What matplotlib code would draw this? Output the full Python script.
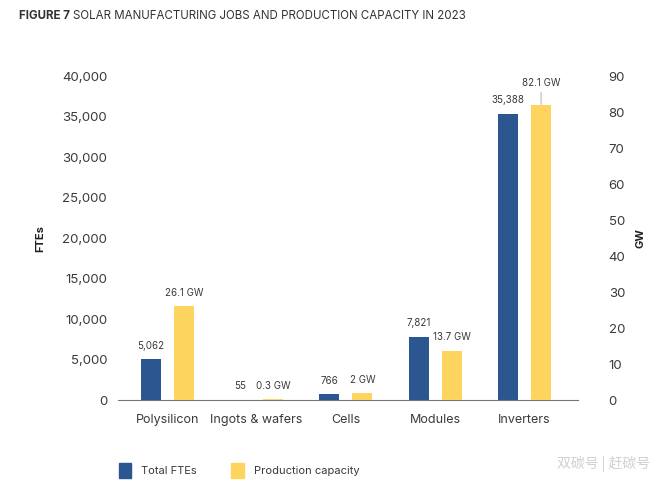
import matplotlib.pyplot as plt
import numpy as np

categories = ['Polysilicon', 'Ingots & wafers', 'Cells', 'Modules', 'Inverters']
ftes = [5062, 55, 766, 7821, 35388]
capacity_gw = [26.1, 0.3, 2, 13.7, 82.1]
fte_labels = ['5,062', '55', '766', '7,821', '35,388']
gw_labels = ['26.1 GW', '0.3 GW', '2 GW', '13.7 GW', '82.1 GW']

blue = '#2B5690'
yellow = '#FDD45E'
text_col = '#3a3a3a'

plt.rcParams['font.family'] = ['Inter', 'DejaVu Sans']

fig = plt.figure(figsize=(6.6, 4.82), dpi=100)
ax = fig.add_axes([0.179, 0.170, 0.697, 0.672])
ax2 = ax.twinx()

x = np.arange(len(categories))
off = 0.185
w = 0.225
ax.bar(x - off, ftes, w, color=blue, zorder=3)
ax2.bar(x + off, capacity_gw, w, color=yellow, zorder=3)

ax.set_ylim(0, 40000)
ax2.set_ylim(0, 90)
ax.set_xlim(-0.55, 4.6)
ax.set_yticks(np.arange(0, 40001, 5000))
ax.set_yticklabels([f'{v:,}' for v in range(0, 40001, 5000)])
ax2.set_yticks(np.arange(0, 91, 10))
ax.set_xticks(x)
ax.set_xticklabels(categories)

for a in (ax, ax2):
    for s in ['top', 'left', 'right', 'bottom']:
        a.spines[s].set_visible(False)
    a.tick_params(length=0, labelsize=9.5, labelcolor=text_col)
ax.spines['bottom'].set_visible(True)
ax.spines['bottom'].set_color('#777777')
ax.spines['bottom'].set_linewidth(0.8)
ax.tick_params(axis='x', labelsize=9, pad=10)
ax.tick_params(axis='y', pad=8)
ax2.tick_params(axis='y', pad=22)

for i in range(len(categories)):
    ax.annotate(fte_labels[i], (x[i] - off, ftes[i]), xytext=(0, 6), textcoords='offset points',
                ha='center', va='bottom', fontsize=7, color=text_col)
    if i == 4:
        ax2.annotate(gw_labels[i], (x[i] + off, capacity_gw[i]), xytext=(0, 12), textcoords='offset points',
                     ha='center', va='bottom', fontsize=7, color=text_col,
                     arrowprops=dict(arrowstyle='-', color='#bbbbbb', lw=0.8, shrinkA=1, shrinkB=0))
    else:
        ax2.annotate(gw_labels[i], (x[i] + off, capacity_gw[i]), xytext=(0, 6), textcoords='offset points',
                     ha='center', va='bottom', fontsize=7, color=text_col)

fig.text(0.061, 0.506, 'FTEs', rotation=90, ha='center', va='center', fontsize=8,
         fontweight='bold', color='#222222')
fig.text(0.970, 0.506, 'GW', rotation=90, ha='center', va='center', fontsize=8,
         fontweight='bold', color='#222222')

t1 = fig.text(0.029, 0.966, 'FIGURE 7 ', fontsize=8.3, fontweight='bold', color='#333333', va='center')
fig.canvas.draw()
bb = t1.get_window_extent()
fig.text(bb.x1 / fig.bbox.width, 0.966, 'SOLAR MANUFACTURING JOBS AND PRODUCTION CAPACITY IN 2023',
         fontsize=8.3, color='#333333', va='center')

# legend
fig.patches.append(plt.Rectangle((0.180, 0.008), 0.019, 0.031, transform=fig.transFigure,
                                 color=blue, figure=fig))
fig.text(0.213, 0.023, 'Total FTEs', fontsize=8, color=text_col, va='center')
fig.patches.append(plt.Rectangle((0.350, 0.008), 0.019, 0.031, transform=fig.transFigure,
                                 color=yellow, figure=fig))
fig.text(0.385, 0.023, 'Production capacity', fontsize=8, color=text_col, va='center')

fig.text(0.985, 0.038, '双碳号 | 赶碳号', fontsize=10, color='#d0d0d0', ha='right', va='center',
         family=['Noto Sans CJK SC', 'DejaVu Sans'])

fig.savefig('out.png', dpi=100, facecolor='white')
